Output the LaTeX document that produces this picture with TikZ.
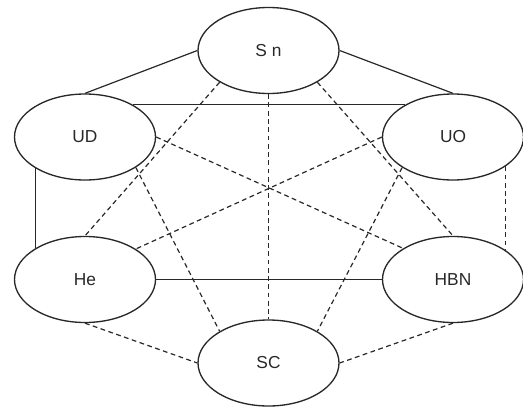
\documentclass[tikz,border=0pt]{standalone}
\usepackage{fontspec}
\setmainfont{Liberation Sans}
\usetikzlibrary{shapes.geometric}
\definecolor{ink}{RGB}{40,40,40}
\begin{document}
\begin{tikzpicture}[x=0.75pt,y=-0.75pt,
  stage/.style={ellipse,draw=ink,line width=1pt,minimum width=105.75pt,
    minimum height=64.5pt,inner sep=0pt,font=\fontsize{13}{15}\selectfont,text=ink},
  solidlink/.style={draw=ink,line width=0.9pt},
  dashlink/.style={draw=ink,line width=0.9pt,dash pattern=on 3.6pt off 2.6pt}]
\useasboundingbox (0,0) rectangle (523,407);

% the six states
\node[stage] (Sn)  at (268.5,50.5) {S n};
\node[stage] (UD)  at (85,137)     {UD};
\node[stage] (UO)  at (453,137)    {UO};
\node[stage] (He)  at (85,279.5)   {He};
\node[stage] (HBN) at (453,279.5)  {HBN};
\node[stage] (SC)  at (268.5,363)  {SC};

% solid links
\draw[solidlink] (Sn.west) -- (UD.north);
\draw[solidlink] (Sn.east) -- (UO.north);
\draw[solidlink] (UD.34) -- (UO.146);
\draw[solidlink] (UD.212) -- (He.148);
\draw[solidlink] (He.east) -- (HBN.west);

% dashed links
\draw[dashlink] (UO.-29) -- (HBN.29);
\draw[dashlink] (Sn.213) -- (He.north);
\draw[dashlink] (Sn.-33) -- (HBN.north);
\draw[dashlink] (Sn.south) -- (SC.north);
\draw[dashlink] (UD.east) -- (HBN.148);
\draw[dashlink] (UO.west) -- (He.31);
\draw[dashlink] (UD.-31) -- (SC.147);
\draw[dashlink] (UO.211) -- (SC.33);
\draw[dashlink] (He.south) -- (SC.west);
\draw[dashlink] (HBN.south) -- (SC.east);
\end{tikzpicture}
\end{document}
